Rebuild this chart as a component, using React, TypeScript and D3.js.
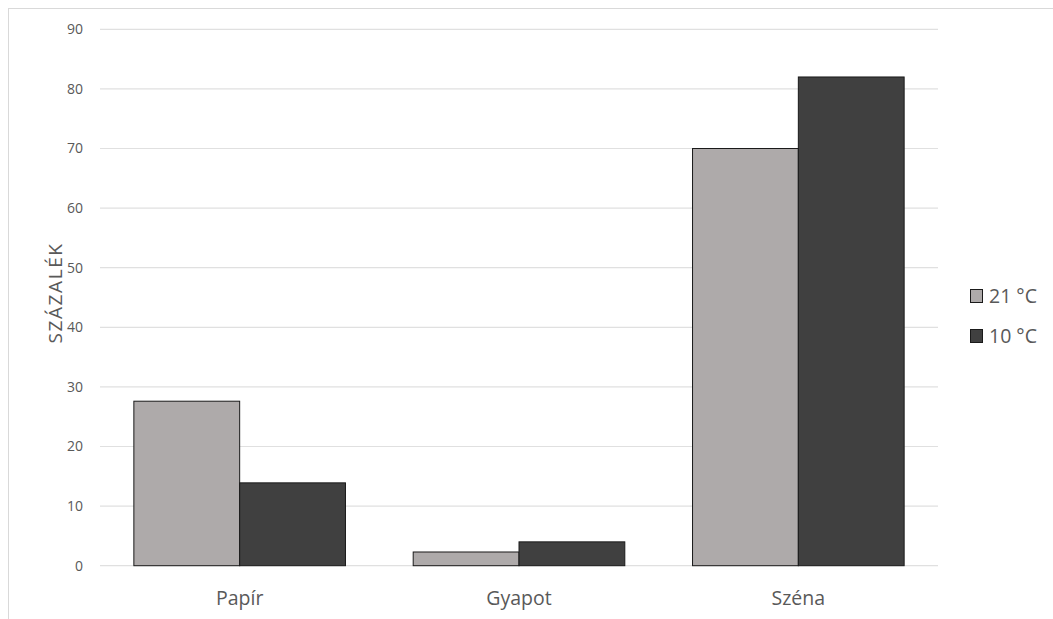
import React from "react";
import * as d3 from "d3";

const categories = ["Papír", "Gyapot", "Széna"];
const seriesNames = ["21 °C", "10 °C"];
const values21 = [27.6, 2.3, 70];
const values10 = [13.9, 4, 82];
const yTicks = [0, 10, 20, 30, 40, 50, 60, 70, 80, 90];
const colors = ["#aeaaaa", "#404040"];

export default function App() {
  const W = 1053, H = 619;
  const left = 100, right = 938, top = 29.3, bottom = 565.7;
  const y = d3.scaleLinear().domain([0, 90]).range([bottom, top]);
  const x0 = d3.scaleBand<string>().domain(categories).range([left, right]).padding(0);
  const x1 = d3.scaleBand<string>().domain(seriesNames).range([0, x0.bandwidth()]).paddingInner(0).paddingOuter(0.32);
  const series = [values21, values10];
  const font = "'Open Sans', 'Noto Sans', sans-serif";
  return (
    <svg width={W} height={H} style={{ position: "absolute", left: 0, top: 0 }} fontFamily={font}>
      <rect x={0} y={0} width={W} height={H} fill="#fff" />
      <line x1={8.5} x2={8.5} y1={8} y2={H} stroke="#d9d9d9" />
      <line x1={8} x2={W} y1={8.5} y2={8.5} stroke="#d9d9d9" />
      {yTicks.map((t) => (
        <g key={t}>
          <line x1={left} x2={right} y1={y(t)} y2={y(t)} stroke="#e0e0e0" strokeWidth={1.2} />
          <text x={83} y={y(t)} dy="0.35em" textAnchor="end" fontSize={14} fill="#595959">{t}</text>
        </g>
      ))}
      {categories.map((c, i) => (
        <g key={c} transform={`translate(${x0(c)},0)`}>
          {seriesNames.map((s, j) => (
            <rect key={s} x={x1(s)} y={y(series[j][i])} width={x1.bandwidth()} height={y(0) - y(series[j][i])}
              fill={colors[j]} stroke="#1a1a1a" strokeWidth={1} />
          ))}
          <text x={x0.bandwidth() / 2} y={605} textAnchor="middle" fontSize={19.5} fill="#595959">{c}</text>
        </g>
      ))}
      <text transform={`translate(62,293) rotate(-90)`} textAnchor="middle" fontSize={19} letterSpacing={1.6} fill="#595959">SZÁZALÉK</text>
      {seriesNames.map((s, j) => (
        <g key={s} transform={`translate(970,${296 + j * 40})`}>
          <rect x={0.5} y={-6.5} width={12} height={13} fill={colors[j]} stroke="#1a1a1a" strokeWidth={1} />
          <text x={19} y={0} dy="0.36em" fontSize={19.5} fill="#595959">{s}</text>
        </g>
      ))}
    </svg>
  );
}
